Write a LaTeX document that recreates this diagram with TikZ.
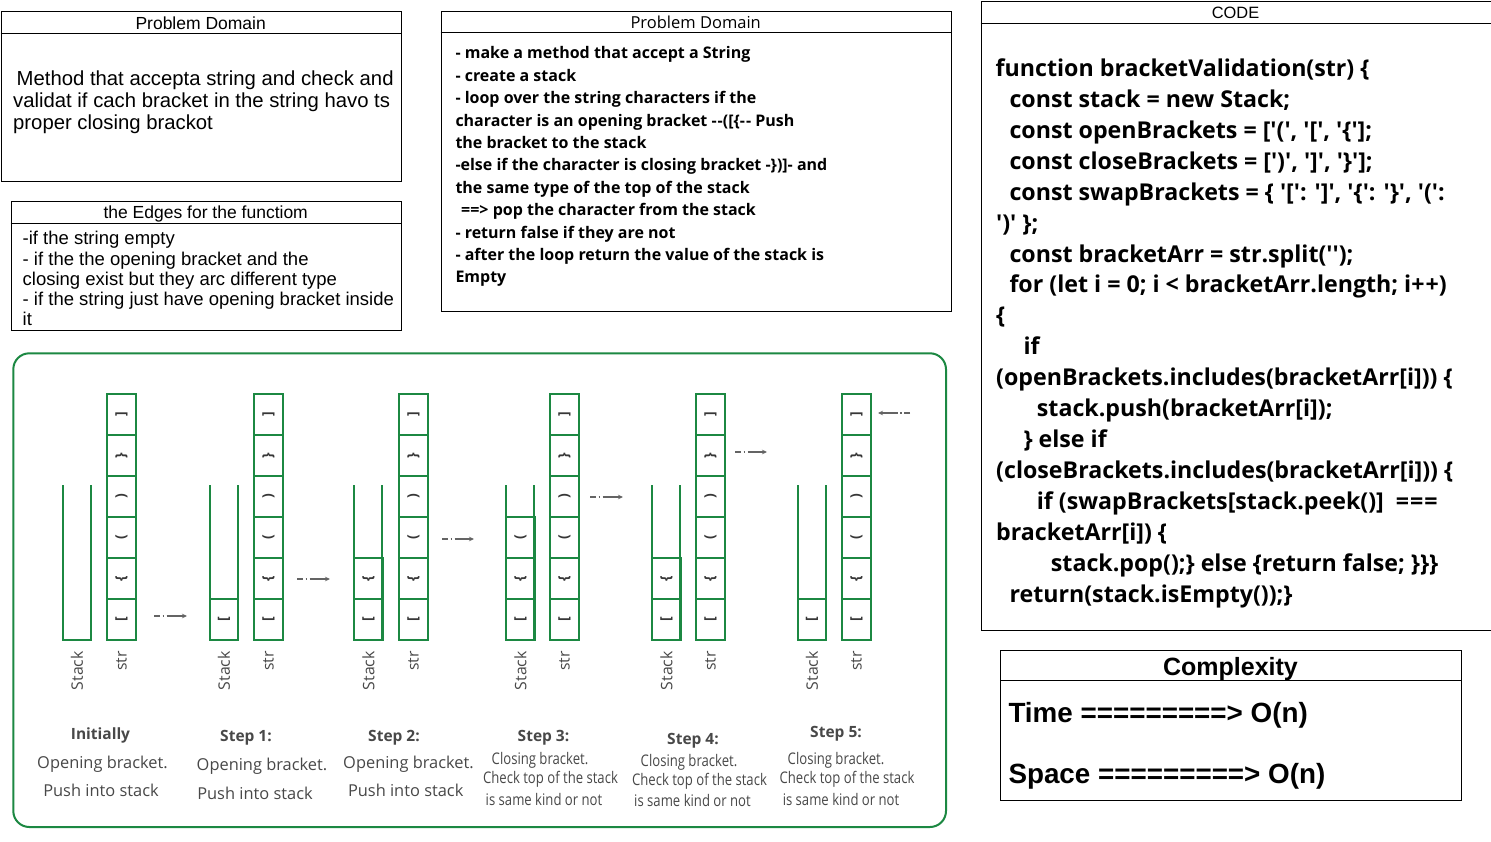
\documentclass[tikz,border=0pt]{standalone}
\usepackage{fontspec}
\setmainfont{Liberation Sans}
\newfontfamily\osans{Open Sans}
\usepackage{graphicx}
\usetikzlibrary{arrows.meta}
\definecolor{grn}{RGB}{28,136,66}
\definecolor{txtg}{RGB}{72,72,72}
\definecolor{brkc}{RGB}{55,55,55}
\definecolor{arrc}{RGB}{100,100,100}
\newcommand{\fsz}[2]{\fontsize{#1}{#2}\selectfont}
\newcommand{\q}{\textquotesingle}
\newcommand{\rb}[1]{\rotatebox{90}{#1}}
\newcommand{\cx}[1]{\scalebox{0.82}[1]{#1}}
\tikzset{
  umlbox/.style={draw=black, line width=1pt, inner sep=0pt, anchor=north west},
  hdr/.style={anchor=base, inner sep=0pt, font=\fsz{17.5}{20}},
  ln/.style={anchor=base west, inner sep=0pt},
  bodyA/.style={ln, font=\fsz{20.3}{22}},
  bodyE/.style={ln, font=\fsz{18.5}{20}},
  bodyS/.style={ln, font=\osans\bfseries\fsz{16}{18}},
  codeS/.style={ln, font=\osans\bfseries\fsz{23.2}{26}},
  cplx/.style={ln, font=\bfseries\fsz{27.8}{30}},
  cell/.style={draw=grn, line width=2.4pt, minimum width=28.5pt, minimum height=41pt, inner sep=0pt, text=brkc, font=\osans\bfseries\fsz{14}{16}},
  gl/.style={draw=grn, line width=2.4pt, line join=miter},
  lbl/.style={rotate=90, anchor=east, inner sep=0pt, text=txtg, font=\osans\fsz{15.8}{18}},
  captxt/.style={anchor=base, inner sep=0pt, text=txtg, font=\osans\fsz{16.4}{18}},
  capbold/.style={anchor=base, inner sep=0pt, text=txtg, font=\osans\bfseries\fsz{15.5}{18}},
  capcond/.style={anchor=base, inner sep=0pt, text=txtg, font=\osans\fsz{16}{18}},
  arr/.style={draw=arrc, line width=1.1pt, dash pattern=on 6pt off 2.5pt on 1.5pt off 2.5pt on 80pt, -{Stealth[length=5pt,width=4.5pt]}},
}
% stack container: #1 left x, #2 name
\newcommand{\stackbox}[2]{%
  \draw[gl] (#1,485) coordinate (#2top) -- (#1,640) -- (#1+28,640) -- (#1+28,485);
}
% str column: #1 left x, #2 name
\newcommand{\strcol}[2]{%
  \node[cell] (#2a) at (#1+14.5,619.5) {\rb{[}};
  \node[cell] (#2b) at (#1+14.5,578.5) {\rb{\{}};
  \node[cell] (#2c) at (#1+14.5,537.5) {\rb{(}};
  \node[cell] (#2d) at (#1+14.5,496.5) {\rb{)}};
  \node[cell] (#2e) at (#1+14.5,455.5) {\rb{\}}};
  \node[cell] (#2f) at (#1+14.5,414.5) {\rb{]}};
  \node[lbl] (#2lbl) at (#1+14.5,651) {str};
}
\begin{document}
\begin{tikzpicture}[x=1pt,y=-1pt]
\useasboundingbox (0,0) rectangle (1491,842);
\fill[white] (0,0) rectangle (1491,842);

% ---------- Box 1: Problem Domain ----------
\node[umlbox, minimum width=400pt, minimum height=170pt] (pd1) at (0.7,10.7) {};
\draw[line width=1pt] (0.7,33.3) -- (400.7,33.3);
\node[hdr] (pd1h) at (200.7,29.3) {Problem Domain};
\node[bodyA] (pd1l1) at (16.5,86) {Method that accepta string and check and};
\node[bodyA] (pd1l2) at (13,108) {validat if cach bracket in the string havo ts};
\node[bodyA] (pd1l3) at (13,130) {proper closing brackot};

% ---------- Box 2: Edges ----------
\node[umlbox, minimum width=390pt, minimum height=129.5pt] (ed) at (10.7,200.7) {};
\draw[line width=1pt] (10.7,223.3) -- (400.7,223.3);
\node[hdr] (edh) at (205.7,218.3) {the Edges for the functiom};
\node[bodyE] (edl1) at (22.5,245) {-if the string empty};
\node[bodyE] (edl2) at (22.5,265.2) {- if the the opening bracket and the};
\node[bodyE] (edl3) at (22.5,285.4) {closing exist but they arc different type};
\node[bodyE] (edl4) at (22.5,305.6) {- if the string just have opening bracket inside};
\node[bodyE] (edl5) at (22.5,325.8) {it};

% ---------- Box 3: Problem Domain (steps) ----------
\node[umlbox, minimum width=510pt, minimum height=300pt] (pd2) at (440.7,10.7) {};
\draw[line width=1pt] (440.7,33) -- (950.7,33);
\node[anchor=base, inner sep=0pt, font=\osans\fsz{16.5}{18}] (pd2h) at (695.7,28.7) {Problem Domain};
\node[bodyS] (s1) at (455.3,59) {- make a method that accept a String};
\node[bodyS] (s2) at (455.3,81.4) {- create a stack};
\node[bodyS] (s3) at (455.3,103.8) {- loop over the string characters if the};
\node[bodyS] (s4) at (455.3,126.2) {character is an opening bracket -\kern1pt-([\{-\kern1pt- Push};
\node[bodyS] (s5) at (455.3,148.6) {the bracket to the stack};
\node[bodyS] (s6) at (455.3,171) {-else if the character is closing bracket -\})]- and};
\node[bodyS] (s7) at (455.3,193.4) {the same type of the top of the stack};
\node[bodyS] (s8) at (461,215.8) {==> pop the character from the stack};
\node[bodyS] (s9) at (455.3,238.2) {- return false if they are not};
\node[bodyS] (s10) at (455.3,260.6) {- after the loop return the value of the stack is};
\node[bodyS] (s11) at (455.3,283) {Empty};

% ---------- Box 4: CODE ----------
\node[umlbox, minimum width=510pt, minimum height=629pt] (code) at (980.5,1) {};
\draw[line width=1pt] (980.5,23.3) -- (1490.5,23.3);
\node[anchor=base, inner sep=0pt, font=\fsz{16.4}{18}] (codeh) at (1235.5,18.3) {CODE};
\node[codeS] (c0) at (995.5,76.7) {function bracketValidation(str) \{};
\node[codeS] (c1) at (1009.3,107.6) {const stack = new Stack;};
\node[codeS] (c2) at (1009.3,138.5) {const openBrackets = [\q(\q, \q[\q, \q\{\q];};
\node[codeS] (c3) at (1009.3,169.4) {const closeBrackets = [\q)\q, \q]\q, \q\}\q];};
\node[codeS] (c4) at (1009.3,200.3) {const swapBrackets = \{ \q[\q: \q]\q, \q\{\q: \q\}\q, \q(\q:};
\node[codeS] (c5) at (996,231.2) {\q)\q\ \};};
\node[codeS] (c6) at (1009.3,262.1) {const bracketArr = str.split(\q\q);};
\node[codeS] (c7) at (1009.3,293) {for (let i = 0; i < bracketArr.length; i+\kern1pt+)};
\node[codeS] (c8) at (996,323.9) {\{};
\node[codeS] (c9) at (1023.3,354.8) {if};
\node[codeS] (c10) at (996,385.7) {(openBrackets.includes(bracketArr[i])) \{};
\node[codeS] (c11) at (1036.7,416.6) {stack.push(bracketArr[i]);};
\node[codeS] (c12) at (1023.3,447.5) {\} else if};
\node[codeS] (c13) at (996,478.4) {(closeBrackets.includes(bracketArr[i])) \{};
\node[codeS] (c14) at (1036.7,509.3) {if (swapBrackets[stack.peek()] \ =\kern1pt=\kern1pt=};
\node[codeS] (c15) at (996,540.2) {bracketArr[i]) \{};
\node[codeS] (c16) at (1050.7,571.1) {stack.pop();\} else \{return false; \}\}\}};
\node[codeS] (c17) at (1009.3,602) {return(stack.isEmpty());\}};

% ---------- Box 5: Complexity ----------
\node[umlbox, minimum width=461pt, minimum height=150pt] (cx) at (1000,650) {};
\draw[line width=1pt] (1000,680) -- (1461,680);
\node[anchor=base, inner sep=0pt, font=\bfseries\fsz{25}{28}] (cxh) at (1230.5,675.7) {Complexity};
\node[cplx] (cxt) at (1008.3,722.3) {Time =========> O(n)};
\node[cplx] (cxs) at (1008.3,783.3) {Space =========> O(n)};

% ---------- Stack illustration ----------
\node[draw=grn, line width=2pt, rounded corners=16pt, minimum width=932.7pt, minimum height=473.7pt, inner sep=0pt, anchor=north west] (frame) at (12.3,352.3) {};

% Initially
\stackbox{63}{k0}
\strcol{107}{t0}
\node[lbl] (k0lbl) at (77,651) {Stack};
% Step 1
\stackbox{210}{k1}
\node[cell] (k1a) at (224,619.5) {\rb{[}};
\strcol{254}{t1}
\node[lbl] (k1lbl) at (224,651) {Stack};
% Step 2
\stackbox{354}{k2}
\node[cell] (k2a) at (368.5,619.5) {\rb{[}};
\node[cell] (k2b) at (368.5,578.5) {\rb{\{}};
\strcol{399}{t2}
\node[lbl] (k2lbl) at (368.5,651) {Stack};
% Step 3
\stackbox{506}{k3}
\node[cell] (k3a) at (520.5,619.5) {\rb{[}};
\node[cell] (k3b) at (520.5,578.5) {\rb{\{}};
\node[cell] (k3c) at (520.5,537.5) {\rb{(}};
\strcol{550}{t3}
\node[lbl] (k3lbl) at (520.5,651) {Stack};
% Step 4
\stackbox{652}{k4}
\node[cell] (k4a) at (666.5,619.5) {\rb{[}};
\node[cell] (k4b) at (666.5,578.5) {\rb{\{}};
\strcol{696}{t4}
\node[lbl] (k4lbl) at (666.5,651) {Stack};
% Step 5
\stackbox{798}{k5}
\node[cell] (k5a) at (812,619.5) {\rb{[}};
\strcol{842}{t5}
\node[lbl] (k5lbl) at (812,651) {Stack};

% arrows
\coordinate (a1s) at (154,616); \coordinate (a1e) at (187,616);
\coordinate (a2s) at (297,579); \coordinate (a2e) at (330,579);
\coordinate (a3s) at (442,539); \coordinate (a3e) at (474,539);
\coordinate (a4s) at (590,497); \coordinate (a4e) at (623,497);
\coordinate (a5s) at (735,452); \coordinate (a5e) at (767,452);
\coordinate (a6s) at (910,413); \coordinate (a6e) at (878,413);
\draw[arr] (a1s) -- (a1e);
\draw[arr] (a2s) -- (a2e);
\draw[arr] (a3s) -- (a3e);
\draw[arr] (a4s) -- (a4e);
\draw[arr] (a5s) -- (a5e);
\draw[arr] (a6s) -- (a6e);

% captions
\node[capbold] (i0) at (100.5,739) {Initially};
\node[captxt] (i1) at (102.5,768.3) {Opening bracket.};
\node[captxt] (i2) at (101,796.7) {Push into stack};

\node[capbold] (p10) at (246,741.7) {Step 1:};
\node[captxt] (p11) at (262,770) {Opening bracket.};
\node[captxt] (p12) at (255,799.3) {Push into stack};

\node[capbold] (p20) at (394,741.7) {Step 2:};
\node[captxt] (p21) at (408.5,768.3) {Opening bracket.};
\node[captxt] (p22) at (405.7,796) {Push into stack};

\node[capbold] (p30) at (543.5,741.7) {Step 3:};
\node[capcond] (p31) at (540,764.3) {\cx{Closing bracket.}};
\node[capcond] (p32) at (550.5,783.3) {\cx{Check top of the stack}};
\node[capcond] (p33) at (544,805) {\cx{is same kind or not}};

\node[capbold] (p40) at (693,744) {Step 4:};
\node[capcond] (p41) at (689,766.7) {\cx{Closing bracket.}};
\node[capcond] (p42) at (699.5,785.7) {\cx{Check top of the stack}};
\node[capcond] (p43) at (692.5,806.7) {\cx{is same kind or not}};

\node[capbold] (p50) at (836,737.3) {Step 5:};
\node[capcond] (p51) at (836,764) {\cx{Closing bracket.}};
\node[capcond] (p52) at (847,783.3) {\cx{Check top of the stack}};
\node[capcond] (p53) at (841,805) {\cx{is same kind or not}};
\end{tikzpicture}
\end{document}
